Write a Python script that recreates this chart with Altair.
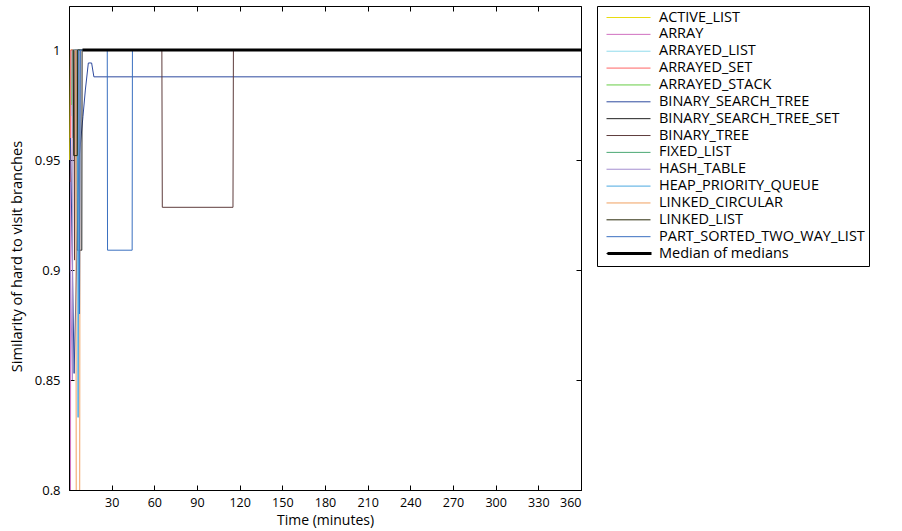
import altair as alt
import pandas as pd

# ---------------- data ----------------
SERIES = [
    "ACTIVE_LIST", "ARRAY", "ARRAYED_LIST", "ARRAYED_SET", "ARRAYED_STACK",
    "BINARY_SEARCH_TREE", "BINARY_SEARCH_TREE_SET", "BINARY_TREE", "FIXED_LIST",
    "HASH_TABLE", "HEAP_PRIORITY_QUEUE", "LINKED_CIRCULAR", "LINKED_LIST",
    "PART_SORTED_TWO_WAY_LIST", "Median of medians",
]
COLORS = [
    "#e8dc10", "#d070c0", "#90dcec", "#ff6464", "#66cc44",
    "#2e4a9e", "#222222", "#5e3c3c", "#4aa874",
    "#a58fd0", "#4aa8e0", "#f0a060", "#2a2a0a",
    "#3a70c0", "#000000",
]

ACTIVE_LIST_T = [0.5, 1.0, 360]
ACTIVE_LIST_V = [0.95, 1.0, 1.0]
ARRAY_T = [1.0, 1.3, 360]
ARRAY_V = [0.75, 1.0, 1.0]
ARRAYED_LIST_T = [1.5, 2.0, 360]
ARRAYED_LIST_V = [0.97, 1.0, 1.0]
ARRAYED_SET_T = [1.0, 1.4, 360]
ARRAYED_SET_V = [0.94, 1.0, 1.0]
ARRAYED_STACK_T = [2.0, 2.5, 360]
ARRAYED_STACK_V = [0.975, 1.0, 1.0]
BINARY_SEARCH_TREE_T = [1.0, 3.6, 7.0, 9.8, 11.5, 13.6, 15.9, 17.5, 360]
BINARY_SEARCH_TREE_V = [0.96, 0.853, 0.95, 0.9697, 0.9818, 0.9941, 0.9941, 0.9878, 0.9878]
BINARY_SEARCH_TREE_SET_T = [5.6, 5.8, 9.0, 9.2, 360]
BINARY_SEARCH_TREE_SET_V = [1.0, 0.909, 0.909, 1.0, 1.0]
BINARY_TREE_T = [3.5, 3.9, 4.3, 65.3, 65.6, 115.3, 115.6, 360]
BINARY_TREE_V = [1.0, 0.9045, 1.0, 1.0, 0.9285, 0.9285, 1.0, 1.0]
FIXED_LIST_T = [2.5, 3.0, 360]
FIXED_LIST_V = [0.96, 1.0, 1.0]
HASH_TABLE_T = [1.0, 2.4, 2.8, 360]
HASH_TABLE_V = [0.9, 0.85, 1.0, 1.0]
HEAP_PRIORITY_QUEUE_T = [6.0, 6.4, 7.2, 360]
HEAP_PRIORITY_QUEUE_V = [1.0, 0.833, 1.0, 1.0]
LINKED_CIRCULAR_T = [4.8, 5.1, 7.5, 7.8, 360]
LINKED_CIRCULAR_V = [1.0, 0.78, 0.78, 1.0, 1.0]
LINKED_LIST_T = [3.0, 3.3, 5.8, 6.1, 360]
LINKED_LIST_V = [1.0, 0.952, 0.952, 1.0, 1.0]
PART_SORTED_T = [6.8, 7.4, 8.0, 26.9, 27.1, 44.4, 44.6, 360]
PART_SORTED_V = [1.0, 0.88, 1.0, 1.0, 0.909, 0.909, 1.0, 1.0]
MEDIAN_T = [9.5, 360]
MEDIAN_V = [1.0, 1.0]

X_TICKS = [30, 60, 90, 120, 150, 180, 210, 240, 270, 300, 330, 360]
Y_TICKS = [0.8, 0.85, 0.9, 0.95, 1.0]

PAIRS = [
    (ACTIVE_LIST_T, ACTIVE_LIST_V), (ARRAY_T, ARRAY_V), (ARRAYED_LIST_T, ARRAYED_LIST_V),
    (ARRAYED_SET_T, ARRAYED_SET_V), (ARRAYED_STACK_T, ARRAYED_STACK_V),
    (BINARY_SEARCH_TREE_T, BINARY_SEARCH_TREE_V), (BINARY_SEARCH_TREE_SET_T, BINARY_SEARCH_TREE_SET_V),
    (BINARY_TREE_T, BINARY_TREE_V), (FIXED_LIST_T, FIXED_LIST_V), (HASH_TABLE_T, HASH_TABLE_V),
    (HEAP_PRIORITY_QUEUE_T, HEAP_PRIORITY_QUEUE_V), (LINKED_CIRCULAR_T, LINKED_CIRCULAR_V),
    (LINKED_LIST_T, LINKED_LIST_V), (PART_SORTED_T, PART_SORTED_V),
]

rows = []
for name, (ts, vs) in zip(SERIES[:-1], PAIRS):
    for i, (t, v) in enumerate(zip(ts, vs)):
        rows.append({"series": name, "t": t, "v": v, "order": i})
df = pd.DataFrame(rows)
med = pd.DataFrame({"series": SERIES[-1], "t": MEDIAN_T, "v": MEDIAN_V,
                    "order": list(range(len(MEDIAN_T)))})

W, H = 512, 484
FONT = "Open Sans"
MED_W = 2.8

xscale = alt.Scale(domain=[0, 360], nice=False, zero=False)
yscale = alt.Scale(domain=[0.8, 1.02], nice=False, zero=False)

legend = alt.Legend(
    title=None, orient="none", legendX=528, legendY=0,
    symbolType="stroke", symbolSize=1936, symbolOffset=5, symbolStrokeWidth=1,
    symbolOpacity=1, strokeColor="black", padding=4,
    labelFont=FONT, labelFontSize=14.5, labelColor="black", labelOffset=8,
    clipHeight=15, rowPadding=0.86, labelLimit=400,
)
# thick stroke overlay for the "Median of medians" legend entry
med_legend = alt.Legend(
    title=None, orient="none", legendX=528, legendY=236.0,
    symbolType="stroke", symbolSize=1936, symbolOffset=5, symbolStrokeWidth=MED_W,
    symbolStrokeColor="black", symbolOpacity=1, padding=4,
    labelExpr="''", labelFontSize=14.5, labelOffset=8,
    clipHeight=15, zindex=1,
)

x_main = alt.X("t:Q", scale=xscale, axis=alt.Axis(
    orient="bottom", values=X_TICKS, ticks=False, grid=False, domainColor="black",
    labelFont=FONT, labelFontSize=12.5, labelColor="black", labelPadding=6,
    title="Time (minutes)", titleFont=FONT, titleFontSize=14, titleFontWeight="normal",
    titleColor="black", titlePadding=5))
y_main = alt.Y("v:Q", scale=yscale, axis=alt.Axis(
    orient="left", values=Y_TICKS, ticks=False, grid=False, domainColor="black", format=".2~f",
    labelFont=FONT, labelFontSize=13, labelColor="black", labelPadding=9,
    title="Similarity of hard to visit branches", titleFont=FONT, titleFontSize=14.6,
    titleFontWeight="normal", titleColor="black", titlePadding=10, titleY=250))

lines = alt.Chart(df).mark_line(clip=True, strokeWidth=1).encode(
    x=x_main,
    y=y_main,
    color=alt.Color("series:N", scale=alt.Scale(domain=SERIES, range=COLORS), legend=legend),
    order="order:Q",
)

median = alt.Chart(med).mark_line(clip=True, strokeWidth=MED_W).encode(
    x=alt.X("t:Q", scale=xscale, axis=None),
    y=alt.Y("v:Q", scale=yscale, axis=None),
    color=alt.Color("series:N", scale=alt.Scale(domain=[SERIES[-1]], range=[COLORS[-1]]),
                    legend=med_legend),
    order="order:Q",
)

pts = alt.Chart(df).mark_point(opacity=0)

ticks_a = pts.encode(
    x=alt.X("t:Q", scale=xscale, axis=alt.Axis(orient="top", offset=-H, values=X_TICKS, labels=False,
                                              domain=False, grid=False, tickSize=5, tickColor="black", title=None)),
    y=alt.Y("v:Q", scale=yscale, axis=alt.Axis(orient="right", offset=-W, values=Y_TICKS, labels=False,
                                              domain=False, grid=False, tickSize=5, tickColor="black", title=None)),
)
ticks_b = pts.encode(
    x=alt.X("t:Q", scale=xscale, axis=alt.Axis(orient="bottom", offset=-H, values=X_TICKS, labels=False,
                                              domain=False, grid=False, tickSize=5, tickColor="black", title=None)),
    y=alt.Y("v:Q", scale=yscale, axis=alt.Axis(orient="left", offset=-W, values=Y_TICKS, labels=False,
                                              domain=False, grid=False, tickSize=5, tickColor="black", title=None)),
)

chart = alt.layer(lines, median, ticks_a, ticks_b).resolve_axis(
    x="independent", y="independent"
).resolve_scale(color="independent").properties(
    width=W, height=H,
    autosize=alt.AutoSizeParams(type="none"),
    padding={"left": 69, "top": 6, "right": 321, "bottom": 41},
).configure_view(stroke="black", strokeWidth=1)

chart.save("out.html", embed_options={"renderer": "svg", "actions": False})
